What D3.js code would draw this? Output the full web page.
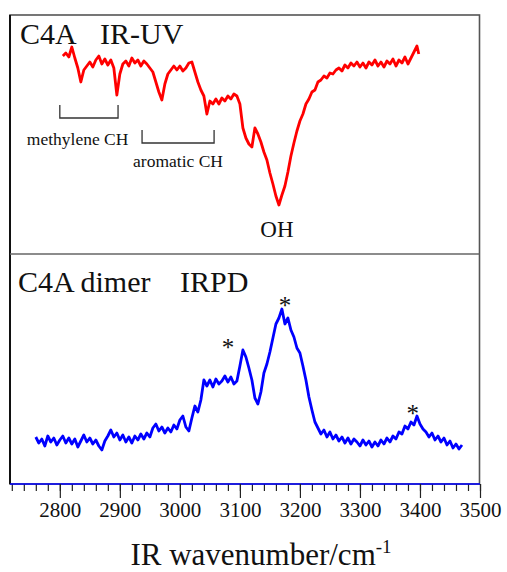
<!DOCTYPE html>
<html>
<head>
<meta charset="utf-8">
<script src="https://cdn.jsdelivr.net/npm/d3@7"></script>
<style>
  body { margin: 0; background: #fff; }
  text { font-family: "Liberation Serif", "Times New Roman", serif; fill: #111; }
</style>
</head>
<body>
<div id="chart"></div>
<script>
// IR-UV spectrum of C4A (relative intensity, arb. units)
var irUv = [
    [2805,198],[2810,201],[2815,197],[2820,207],[2825,196],[2830,186],[2835,172],[2840,184],[2845,188],[2850,192],
    [2855,187],[2860,194],[2865,198],[2870,190],[2875,195],[2880,189],[2885,194],[2890,186],[2895,159],[2900,180],
    [2905,190],[2910,193],[2915,188],[2920,196],[2925,191],[2930,194],[2935,188],[2940,193],[2945,190],[2950,186],
    [2955,182],[2960,172],[2965,162],[2970,154],[2975,170],[2980,180],[2985,184],[2990,188],[2995,184],[3000,188],
    [3005,183],[3010,186],[3015,191],[3020,192],[3025,182],[3030,172],[3035,164],[3040,158],[3045,140],[3050,153],
    [3055,150],[3060,155],[3065,150],[3070,156],[3075,153],[3080,158],[3085,155],[3090,160],[3095,158],[3100,150],
    [3105,126],[3110,116],[3115,110],[3120,107],[3125,126],[3130,120],[3135,112],[3140,102],[3145,94],[3150,81],
    [3155,70],[3160,58],[3165,49],[3170,59],[3175,68],[3180,82],[3185,98],[3190,111],[3195,123],[3200,133],
    [3205,140],[3210,150],[3215,155],[3220,162],[3225,164],[3230,172],[3235,174],[3240,178],[3245,176],[3250,181],
    [3255,180],[3260,184],[3265,186],[3270,183],[3275,189],[3280,186],[3285,191],[3290,188],[3295,192],[3300,187],
    [3305,191],[3310,186],[3315,192],[3320,189],[3325,194],[3330,188],[3335,192],[3340,187],[3345,193],[3350,190],
    [3355,195],[3360,188],[3365,194],[3370,191],[3375,197],[3380,190],[3385,196],[3390,202],[3395,208],[3398,200]
];

// IRPD spectrum of the C4A dimer
var irpd = [
    [2760,47],[2765,41],[2770,45],[2775,38],[2780,48],[2785,42],[2790,46],[2795,39],[2800,44],[2805,48],
    [2810,41],[2815,46],[2820,40],[2825,45],[2830,37],[2835,43],[2840,49],[2845,42],[2850,46],[2855,40],
    [2860,44],[2865,38],[2870,34],[2875,43],[2880,48],[2885,54],[2890,47],[2895,51],[2900,44],[2905,49],
    [2910,42],[2915,47],[2920,41],[2925,48],[2930,44],[2935,50],[2940,45],[2945,51],[2950,47],[2955,56],
    [2960,60],[2965,53],[2970,57],[2975,51],[2980,56],[2985,52],[2990,59],[2995,55],[3000,64],[3005,68],
    [3010,57],[3015,53],[3020,66],[3025,78],[3030,72],[3035,84],[3040,104],[3045,98],[3050,104],[3055,97],
    [3060,105],[3065,100],[3070,103],[3075,108],[3080,102],[3085,107],[3090,100],[3095,103],[3100,118],[3105,134],
    [3110,127],[3115,116],[3120,104],[3125,86],[3130,80],[3135,92],[3140,111],[3145,120],[3150,132],[3155,146],
    [3160,160],[3165,166],[3170,175],[3175,160],[3180,166],[3185,154],[3190,147],[3195,136],[3200,131],[3205,118],
    [3210,104],[3215,87],[3220,74],[3225,62],[3230,56],[3235,50],[3240,54],[3245,47],[3250,52],[3255,45],
    [3260,49],[3265,43],[3270,47],[3275,41],[3280,46],[3285,40],[3290,45],[3295,42],[3300,38],[3305,44],
    [3310,39],[3315,43],[3320,37],[3325,42],[3330,38],[3335,44],[3340,40],[3345,46],[3350,42],[3355,48],
    [3360,45],[3365,52],[3370,50],[3375,58],[3380,55],[3385,62],[3390,59],[3395,68],[3400,60],[3405,55],
    [3410,52],[3415,47],[3420,51],[3425,44],[3430,48],[3435,42],[3440,46],[3445,39],[3450,43],[3455,36],
    [3460,40],[3465,35],[3470,39]
];

// band assignments (wavenumber ranges) and marked peaks
var bandNames = ["methylene CH", "aromatic CH"];
var bandRanges = [[2800, 2897], [2937, 3057]];
var bandLevels = [149, 124];
var ohPeak = [3165, 49];
var starPeaks = [3080, 3175, 3388];
var starLevels = [136, 178, 70];

var tickMajor = [2800, 2900, 3000, 3100, 3200, 3300, 3400, 3500];

var width = 507,
    height = 572;

var svg = d3.select("#chart")
    .append("svg")
    .attr("width", width)
    .attr("height", height);

var x = d3.scaleLinear()
    .domain([2717, 3500])
    .range([10, 480]);

var yTop = d3.scaleLinear()
    .domain([0, 240])
    .range([254, 14]);

var yBot = d3.scaleLinear()
    .domain([0, 230])
    .range([484, 254]);

// frame + divider
svg.append("rect")
    .attr("x", 10)
    .attr("y", 15)
    .attr("width", 469.5)
    .attr("height", 469)
    .style("fill", "none")
    .style("stroke", "#555")
    .style("stroke-width", 1.6);
svg.append("line")
    .attr("x1", 10).attr("x2", 10)
    .attr("y1", 15).attr("y2", 484)
    .style("stroke", "#111")
    .style("stroke-width", 2);
svg.append("line")
    .attr("x1", 10).attr("x2", 479.5)
    .attr("y1", 254).attr("y2", 254)
    .style("stroke", "#666")
    .style("stroke-width", 1.6);

// spectra
var lineTop = d3.line()
    .x(function (d) { return x(d[0]); })
    .y(function (d) { return yTop(d[1]); });
var lineBot = d3.line()
    .x(function (d) { return x(d[0]); })
    .y(function (d) { return yBot(d[1]); });

svg.append("path")
    .datum(irUv)
    .attr("d", lineTop)
    .style("fill", "none")
    .style("stroke", "#ff0000")
    .style("stroke-width", 2.8)
    .style("stroke-linejoin", "round");

svg.append("path")
    .datum(irpd)
    .attr("d", lineBot)
    .style("fill", "none")
    .style("stroke", "#0000ff")
    .style("stroke-width", 2.8)
    .style("stroke-linejoin", "round");

// x axis: minor ticks every 20, labelled majors every 100
var minorAxis = d3.axisBottom(x)
    .tickValues(d3.range(2720, 3501, 20))
    .tickSize(7)
    .tickFormat("");
var majorAxis = d3.axisBottom(x)
    .tickValues(tickMajor)
    .tickSize(14)
    .tickPadding(4)
    .tickFormat(d3.format("d"));

var gMinor = svg.append("g")
    .attr("transform", "translate(0,484)")
    .call(minorAxis);
var gMajor = svg.append("g")
    .attr("transform", "translate(0,484)")
    .call(majorAxis);

gMinor.select(".domain").remove();
gMajor.select(".domain")
    .style("stroke", "#0000ff")
    .style("stroke-width", 1.6)
    .attr("d", "M10,0H480");
svg.selectAll(".tick line")
    .style("stroke", "#222")
    .style("stroke-width", 1.2);
gMajor.selectAll(".tick text")
    .style("font-family", "Liberation Serif, serif")
    .style("font-size", "21px")
    .style("fill", "#111");

svg.append("text")
    .attr("x", 261)
    .attr("y", 565)
    .attr("text-anchor", "middle")
    .style("font-size", "31px")
    .text("IR wavenumber/cm")
    .append("tspan")
    .attr("dy", -12)
    .style("font-size", "19px")
    .text("-1");

// panel titles
svg.append("text").attr("x", 20).attr("y", 44).style("font-size", "30px").text("C4A");
svg.append("text").attr("x", 100).attr("y", 44).style("font-size", "30px").text("IR-UV");
svg.append("text").attr("x", 18).attr("y", 292).style("font-size", "30px").text("C4A dimer");
svg.append("text").attr("x", 180).attr("y", 292).style("font-size", "30px").text("IRPD");

// band brackets
bandRanges.forEach(function (r, i) {
    var y0 = yTop(bandLevels[i]),
        y1 = yTop(bandLevels[i] - 13);
    svg.append("path")
        .attr("d", "M" + x(r[0]) + "," + y0 + "V" + y1 + "H" + x(r[1]) + "V" + y0)
        .style("fill", "none")
        .style("stroke", "#333")
        .style("stroke-width", 1.3);
});
svg.append("text").attr("x", x(2745)).attr("y", 145).style("font-size", "17.5px").text(bandNames[0]);
svg.append("text").attr("x", x(2922)).attr("y", 167).style("font-size", "17.5px").text(bandNames[1]);

svg.append("text")
    .attr("x", x(ohPeak[0]) - 2)
    .attr("y", yTop(ohPeak[1]) + 32)
    .attr("text-anchor", "middle")
    .style("font-size", "23px")
    .text("OH");

svg.selectAll(".star")
    .data(starPeaks)
    .enter().append("text")
    .attr("class", "star")
    .attr("x", function (d) { return x(d); })
    .attr("y", function (d, i) { return yBot(starLevels[i]) + 8; })
    .attr("text-anchor", "middle")
    .style("font-size", "25px")
    .text("*");
</script>
</body>
</html>
